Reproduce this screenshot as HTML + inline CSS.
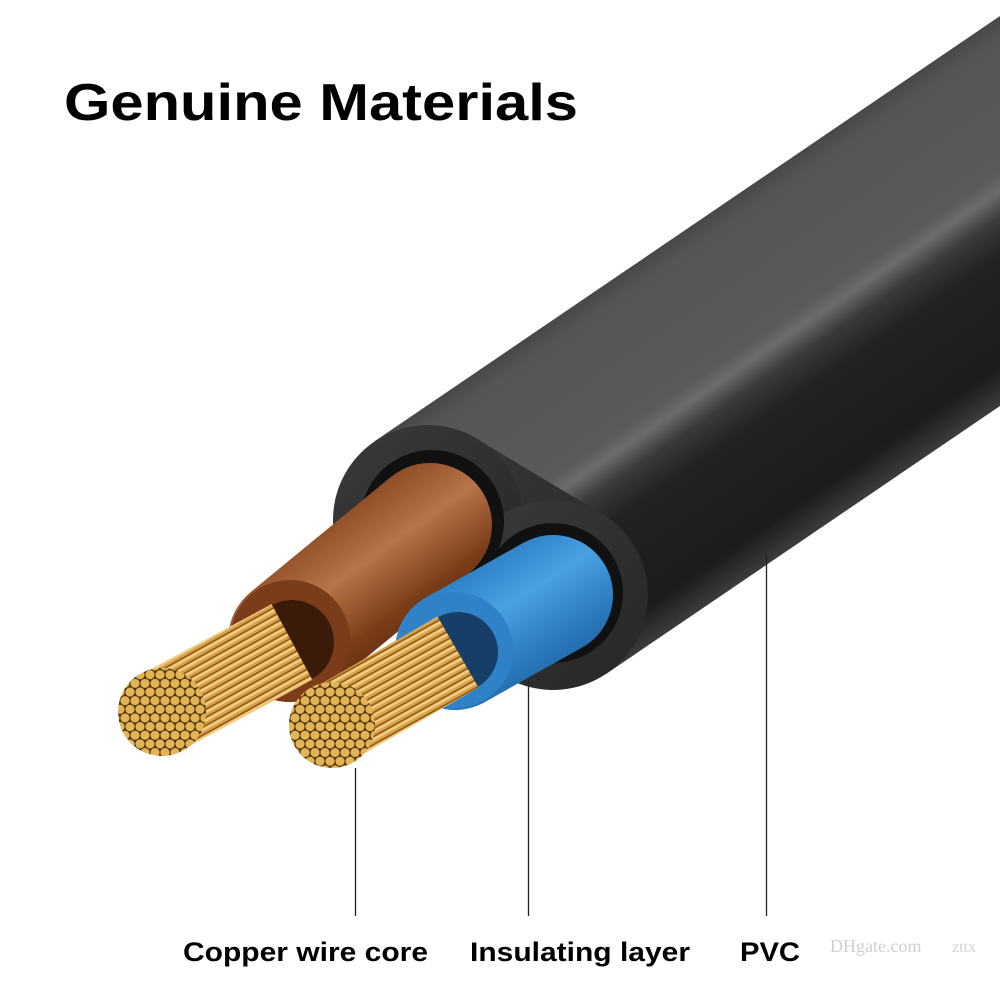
<!DOCTYPE html>
<html><head><meta charset="utf-8"><style>
html,body{margin:0;padding:0;background:#fff;}
svg{display:block;}
text{font-family:"Liberation Sans",Arial,sans-serif;font-weight:bold;fill:#000;}
</style></head><body>
<svg width="1000" height="1000" viewBox="0 0 1000 1000" xmlns="http://www.w3.org/2000/svg">
<defs>
<linearGradient id="body" gradientUnits="userSpaceOnUse" x1="375" y1="441" x2="557" y2="708">
<stop offset="0" stop-color="#474747"/>
<stop offset="0.06" stop-color="#555"/>
<stop offset="0.40" stop-color="#5a5a5a"/>
<stop offset="0.45" stop-color="#6c6c6c"/>
<stop offset="0.52" stop-color="#3a3a3a"/>
<stop offset="0.62" stop-color="#222"/>
<stop offset="0.9" stop-color="#1c1c1c"/>
<stop offset="1" stop-color="#3c3c3c"/>
</linearGradient>
<linearGradient id="face" x1="0" y1="0" x2="1" y2="1">
<stop offset="0" stop-color="#3a3a3a"/>
<stop offset="1" stop-color="#262626"/>
</linearGradient>
<linearGradient id="brown" gradientUnits="userSpaceOnUse" x1="320" y1="520" x2="420" y2="660">
<stop offset="0" stop-color="#8a4a22"/>
<stop offset="0.35" stop-color="#b8744a"/>
<stop offset="0.7" stop-color="#7a3c18"/>
<stop offset="1" stop-color="#5a2a10"/>
</linearGradient>
<linearGradient id="blue" gradientUnits="userSpaceOnUse" x1="470" y1="560" x2="560" y2="700">
<stop offset="0" stop-color="#2a7cc4"/>
<stop offset="0.35" stop-color="#4aa0e0"/>
<stop offset="0.7" stop-color="#2a78bc"/>
<stop offset="1" stop-color="#1c5a94"/>
</linearGradient>
<pattern id="strands" width="8" height="7" patternUnits="userSpaceOnUse" patternTransform="rotate(-29)">
<rect width="8" height="7" fill="#d9a04a"/>
<rect y="0.5" width="8" height="2.5" fill="#f0cc80"/>
<rect y="5.5" width="8" height="1.5" fill="#8a5a1a"/>
</pattern>
<pattern id="ends" width="10" height="17.3" patternUnits="userSpaceOnUse">
<rect width="10" height="17.3" fill="#4a300a"/>
<circle cx="0" cy="0" r="4.6" fill="#e2b455"/>
<circle cx="10" cy="0" r="4.6" fill="#e2b455"/>
<circle cx="5" cy="8.65" r="4.6" fill="#e2b455"/>
<circle cx="0" cy="17.3" r="4.6" fill="#e2b455"/>
<circle cx="10" cy="17.3" r="4.6" fill="#e2b455"/>
</pattern>
</defs>

<text x="64" y="120" font-size="52" textLength="514" lengthAdjust="spacingAndGlyphs">Genuine Materials</text>

<path d="M375,441 L1000,16 L1000,406 L606,674 Z" fill="url(#body)"/>
<path d="M477,439 L602,514 A95,95 0 0 1 504,676 L379,601 A95,95 0 0 1 477,439 Z" fill="url(#face)"/>
<circle cx="428" cy="520" r="95" fill="url(#face)"/>
<circle cx="553" cy="595" r="95" fill="url(#face)"/>
<circle cx="432" cy="522" r="72" fill="#111"/>
<circle cx="553" cy="593" r="70" fill="#111"/>

<line x1="430" y1="525" x2="290" y2="640" stroke="url(#brown)" stroke-width="124" stroke-linecap="round"/>
<circle cx="290" cy="640" r="60" fill="#7a3c1a"/>
<circle cx="292" cy="642" r="42" fill="#3a1a08"/>
<line x1="292" y1="642" x2="162" y2="712" stroke="url(#strands)" stroke-width="86" stroke-linecap="butt"/>
<circle cx="162" cy="712" r="44" fill="url(#ends)"/>

<line x1="553" y1="595" x2="455" y2="650" stroke="url(#blue)" stroke-width="120" stroke-linecap="round"/>
<circle cx="455" cy="650" r="58" fill="#2f82c8"/>
<circle cx="458" cy="652" r="40" fill="#163e66"/>
<line x1="458" y1="652" x2="332" y2="725" stroke="url(#strands)" stroke-width="82" stroke-linecap="butt"/>
<circle cx="332" cy="725" r="43" fill="url(#ends)"/>

<line x1="355.5" y1="768" x2="355.5" y2="916" stroke="#222" stroke-width="1.3"/>
<line x1="528.5" y1="680" x2="528.5" y2="916" stroke="#222" stroke-width="1.3"/>
<line x1="766.5" y1="555" x2="766.5" y2="916" stroke="#222" stroke-width="1.3"/>

<text x="183" y="961" font-size="27" textLength="245" lengthAdjust="spacingAndGlyphs">Copper wire core</text>
<text x="470" y="961" font-size="27" textLength="220" lengthAdjust="spacingAndGlyphs">Insulating layer</text>
<text x="740" y="961" font-size="27" textLength="60" lengthAdjust="spacingAndGlyphs">PVC</text>
<text x="830" y="952" font-size="18" style="fill:#d0d0d0;font-weight:normal;font-family:'Liberation Serif',serif">DHgate.com</text>
<text x="952" y="952" font-size="16" style="fill:#d0d0d0;font-weight:normal;font-family:'Liberation Serif',serif">zttx</text>
</svg>
</body></html>
